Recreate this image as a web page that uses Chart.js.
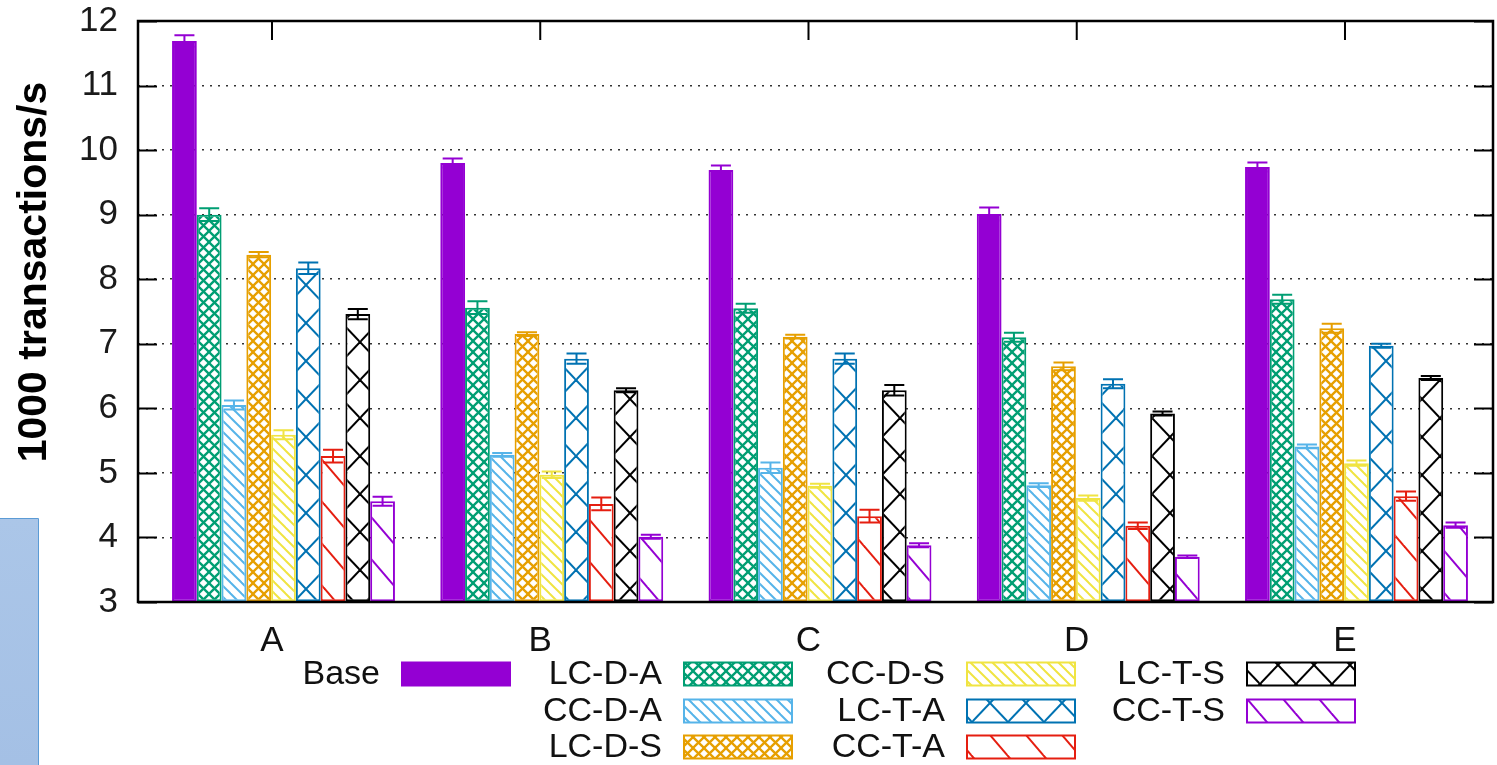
<!DOCTYPE html>
<html><head><meta charset="utf-8">
<script src="https://cdn.jsdelivr.net/npm/chart.js@4.4.1/dist/chart.umd.min.js"></script>
<style>html,body{margin:0;padding:0;background:#fff;overflow:hidden}</style>
</head><body>
<canvas id="c" width="1497" height="765" style="display:block;width:1497px;height:765px"></canvas>
<script>
// ---- data ----
const categories = ['A', 'B', 'C', 'D', 'E'];
const seriesNames = ['Base', 'LC-D-A', 'CC-D-A', 'LC-D-S', 'CC-D-S', 'LC-T-A', 'CC-T-A', 'LC-T-S', 'CC-T-S'];
const baseVals = [11.69, 9.80, 9.69, 9.01, 9.74];
const lcdaVals = [9.00, 7.56, 7.55, 7.10, 7.69];
const ccdaVals = [6.05, 5.28, 5.08, 4.81, 5.41];
const lcdsVals = [8.38, 7.15, 7.11, 6.65, 7.24];
const ccdsVals = [5.59, 4.97, 4.80, 4.61, 5.15];
const lctaVals = [8.17, 6.77, 6.77, 6.38, 6.97];
const cctaVals = [5.26, 4.52, 4.33, 4.18, 4.64];
const lctsVals = [7.46, 6.28, 6.28, 5.92, 6.47];
const cctsVals = [4.56, 4.01, 3.88, 3.70, 4.19];
const baseErr = [0.09, 0.07, 0.07, 0.10, 0.07];
const lcdaErr = [0.10, 0.10, 0.07, 0.07, 0.07];
const ccdaErr = [0.07, 0.03, 0.08, 0.03, 0.03];
const lcdsErr = [0.04, 0.03, 0.03, 0.06, 0.07];
const ccdsErr = [0.07, 0.05, 0.03, 0.04, 0.04];
const lctaErr = [0.09, 0.08, 0.08, 0.07, 0.03];
const cctaErr = [0.10, 0.10, 0.10, 0.05, 0.07];
const lctsErr = [0.08, 0.03, 0.08, 0.03, 0.03];
const cctsErr = [0.07, 0.03, 0.03, 0.02, 0.04];
const yTicks = [3, 4, 5, 6, 7, 8, 9, 10, 11, 12];
const yTitle = '1000 transactions/s';

const seriesValues = [baseVals, lcdaVals, ccdaVals, lcdsVals, ccdsVals, lctaVals, cctaVals, lctsVals, cctsVals];
const seriesErrors = [baseErr, lcdaErr, ccdaErr, lcdsErr, ccdsErr, lctaErr, cctaErr, lctsErr, cctsErr];

// ---- styles ----
const colors = ['#9400D3', '#009E73', '#56B4E9', '#E69F00', '#F0E442', '#0072B2', '#E51E10', '#000000', '#9400D3'];
const kinds = ['solid', 'xdense', 'bdense', 'xdense', 'bdense', 'xsparse', 'bsparse', 'xsparse', 'bsparse'];
const FONT = '"Liberation Sans", Arial, Helvetica, sans-serif';

function makePattern(color, kind) {
  if (kind === 'solid') return color;
  const dense = kind.endsWith('dense');
  const cross = kind.startsWith('x');
  const W = dense ? 11 : 36, H = dense ? 11 : (cross ? 38 : 42);
  const c = document.createElement('canvas');
  c.width = W; c.height = H;
  const g = c.getContext('2d');
  g.fillStyle = '#fff'; g.fillRect(0, 0, W, H);
  g.strokeStyle = color;
  g.lineWidth = dense ? (cross ? 2.3 : 2.0) : 2.0;
  for (const dx of [-W, 0, W]) {
    g.beginPath(); g.moveTo(dx - W, -H); g.lineTo(dx + 2 * W, 2 * H); g.stroke();
    if (cross) { g.beginPath(); g.moveTo(dx + 2 * W, -H); g.lineTo(dx - W, 2 * H); g.stroke(); }
  }
  const ctx = document.getElementById('c').getContext('2d');
  return ctx.createPattern(c, 'repeat');
}
const fills = colors.map((c, i) => makePattern(c, kinds[i]));

// x range so clusters sit where the reference has them
const xMin = -0.5424, xMax = 4.5089;

const datasets = seriesNames.map((name, i) => ({
  label: name,
  data: seriesValues[i].map((v, j) => ({ x: j, y: v })),
  backgroundColor: fills[i],
  borderColor: colors[i],
  borderWidth: 2,
  borderSkipped: false,
  base: yTicks[0],
  categoryPercentage: 0.831,
  barPercentage: 1.0
}));

const decorPlugin = {
  id: 'decor',
  beforeDraw(chart) {
    const ctx = chart.ctx;
    ctx.save();
    ctx.fillStyle = '#fff';
    ctx.fillRect(0, 0, chart.width, chart.height);
    const gr = ctx.createLinearGradient(0, 518, 0, 765);
    gr.addColorStop(0, '#abc6e8'); gr.addColorStop(1, '#a4c0e5');
    ctx.fillStyle = gr;
    ctx.fillRect(0, 518, 38, 247);
    ctx.strokeStyle = '#5b9bd5'; ctx.lineWidth = 1;
    ctx.beginPath(); ctx.moveTo(0, 518.5); ctx.lineTo(38.5, 518.5); ctx.lineTo(38.5, 765); ctx.stroke();
    ctx.restore();
  },
  afterDatasetsDraw(chart) {
    const ctx = chart.ctx;
    const ys = chart.scales.y;
    ctx.save();
    chart.data.datasets.forEach((ds, i) => {
      const meta = chart.getDatasetMeta(i);
      meta.data.forEach((bar, j) => {
        const v = seriesValues[i][j], e = seriesErrors[i][j];
        const yt = ys.getPixelForValue(v + e), yb = ys.getPixelForValue(v - e);
        const x = bar.x, hw = 10;
        ctx.strokeStyle = colors[i]; ctx.lineWidth = 2;
        ctx.beginPath();
        ctx.moveTo(x, yt); ctx.lineTo(x, yb);
        ctx.moveTo(x - hw, yt); ctx.lineTo(x + hw, yt);
        ctx.moveTo(x - hw, yb); ctx.lineTo(x + hw, yb);
        ctx.stroke();
      });
    });
    ctx.restore();
  },
  afterDraw(chart) {
    const ctx = chart.ctx;
    const a = chart.chartArea;
    const xs = chart.scales.x, ys = chart.scales.y;
    ctx.save();
    ctx.strokeStyle = '#000'; ctx.lineWidth = 2;
    ctx.beginPath();
    yTicks.forEach(t => {
      const y = Math.round(ys.getPixelForValue(t)) + 0.5;
      ctx.moveTo(a.left, y); ctx.lineTo(a.left + 19, y);
      ctx.moveTo(a.right, y); ctx.lineTo(a.right - 19, y);
    });
    categories.forEach((c, i) => {
      const x = xs.getPixelForValue(i) + xs.options.ticks.labelOffset;
      ctx.moveTo(x, a.top); ctx.lineTo(x, a.top + 19);
    });
    ctx.stroke();
    ctx.lineWidth = 2.5;
    ctx.strokeRect(a.left, a.top, a.right - a.left, a.bottom - a.top);
    ctx.fillStyle = '#000';
    ctx.font = 'bold 41px ' + FONT;
    ctx.textAlign = 'center'; ctx.textBaseline = 'middle';
    ctx.translate(35, 272); ctx.rotate(-Math.PI / 2);
    ctx.fillText(yTitle, 0, 0);
    ctx.restore();

    ctx.save();
    const colX = [402, 684, 967, 1247];
    const rowY = [674, 711, 747];
    const sw = 108, sh = 23;
    ctx.font = '34px ' + FONT;
    ctx.textAlign = 'right'; ctx.textBaseline = 'middle';
    seriesNames.forEach((name, i) => {
      const slot = i === 0 ? 0 : i + 2;
      const cx = colX[Math.floor(slot / 3)], cy = rowY[slot % 3];
      ctx.fillStyle = '#111';
      ctx.fillText(name, cx - 22, cy + 1);
      ctx.fillStyle = fills[i];
      ctx.fillRect(cx, cy - sh / 2, sw, sh);
      ctx.strokeStyle = colors[i]; ctx.lineWidth = 2;
      ctx.strokeRect(cx, cy - sh / 2, sw, sh);
    });
    ctx.restore();
  }
};

new Chart(document.getElementById('c'), {
  type: 'bar',
  data: { datasets },
  options: {
    responsive: false,
    animation: false,
    devicePixelRatio: 1,
    layout: { padding: { left: 0, top: 21, right: 4, bottom: 0 } },
    plugins: { legend: { display: false }, tooltip: { enabled: false } },
    scales: {
      x: {
        type: 'linear',
        offset: false,
        min: xMin, max: xMax,
        afterBuildTicks: s => { s.ticks = categories.map((c, i) => ({ value: i })); },
        afterFit: s => { s.height = 163; s.paddingLeft = 0; s.paddingRight = 0; },
        grid: { display: false, drawTicks: false, offset: false },
        border: { display: false },
        ticks: {
          callback: v => categories[v],
          font: { family: FONT, size: 35 },
          color: '#111',
          padding: 18,
          labelOffset: -11.5,
          maxRotation: 0, autoSkip: false
        }
      },
      y: {
        min: yTicks[0], max: yTicks[yTicks.length - 1],
        afterBuildTicks: s => { s.ticks = yTicks.map(v => ({ value: v })); },
        afterFit: s => { s.width = 138; s.paddingTop = 0; s.paddingBottom = 0; },
        grid: { color: 'rgba(0,0,0,0.8)', lineWidth: 1.6, drawTicks: false },
        border: { display: false, dash: [2, 6] },
        ticks: {
          font: { family: FONT, size: 35 },
          color: '#1a1a1a',
          padding: 20
        }
      }
    }
  },
  plugins: [decorPlugin]
});
</script>
</body></html>
